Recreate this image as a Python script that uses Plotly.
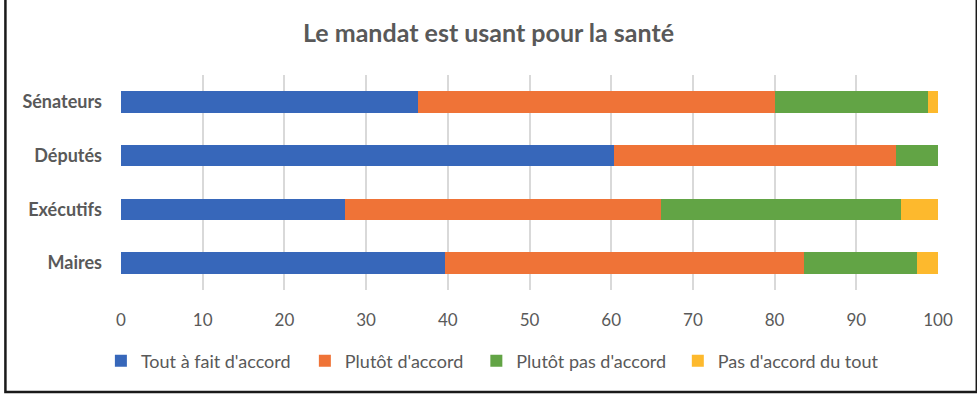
import plotly.graph_objects as go

categories = ["Sénateurs", "Députés", "Exécutifs", "Maires"]
series_names = ["Tout à fait d'accord", "Plutôt d'accord", "Plutôt pas d'accord", "Pas d'accord du tout"]
tout_a_fait = [36.3, 60.4, 27.4, 39.7]
plutot = [43.7, 34.5, 38.7, 43.9]
plutot_pas = [18.8, 5.1, 29.4, 13.8]
pas_du_tout = [1.2, 0.0, 4.5, 2.6]
tick_vals = [0, 10, 20, 30, 40, 50, 60, 70, 80, 90, 100]

colors = ["#3767BA", "#EF7337", "#62A445", "#FDB92D"]
values = [tout_a_fait, plutot, plutot_pas, pas_du_tout]

W, H = 977, 397
L, R, T, B = 120.6, 977 - 937.7, 75, 397 - 290
pw, ph = W - L - R, H - T - B


def px_x(x):
    return (x - L) / pw


def px_y(y):
    return (H - B - y) / ph


legend_ids = ["legend", "legend2", "legend3", "legend4"]
legend_centers = [198, 386.5, 573.5, 780.5]

fig = go.Figure()
for name, vals, col, lid in zip(series_names, values, colors, legend_ids):
    fig.add_trace(go.Bar(
        y=categories, x=vals, name=name, orientation="h", legend=lid, showlegend=True,
        marker=dict(color=col, line=dict(width=0)),
    ))

legend_layout = {}
for lid, cx in zip(legend_ids, legend_centers):
    legend_layout[lid] = dict(orientation="h", x=px_x(cx), xanchor="center", y=px_y(361), yanchor="middle",
                              font=dict(size=18, color="#595959", family="Lato"), itemwidth=30,
                              bgcolor="rgba(0,0,0,0)", visible=True)

fig.update_layout(
    width=W, height=H, showlegend=True,
    barmode="stack", bargap=0.6,
    margin=dict(l=L, r=R, t=T, b=B),
    paper_bgcolor="white", plot_bgcolor="white",
    font=dict(family="Lato", color="#595959"),
    title=dict(text="<b>Le mandat est usant pour la santé</b>", x=0.5, xanchor="center",
               y=1 - 33 / H, yanchor="middle", font=dict(size=25, color="#595959", family="Lato")),
    xaxis=dict(range=[0, 100], tickvals=tick_vals, showgrid=True, gridcolor="#D9D9D9", gridwidth=1.5,
               zeroline=False, showline=False, tickfont=dict(size=17, color="#595959"),
               ticks="", ticklabelstandoff=18),
    yaxis=dict(categoryorder="array", categoryarray=categories[::-1], showgrid=False, zeroline=False,
               showline=False, ticks="", tickfont=dict(size=18, color="#595959", family="Lato"),
               ticklabelstandoff=18, tickprefix="<b>", ticksuffix="</b>"),
    shapes=[dict(type="rect", xref="paper", yref="paper",
                 x0=px_x(5), x1=px_x(976.5), y0=px_y(392), y1=px_y(-5),
                 line=dict(color="#1a1a1a", width=2.5), fillcolor="rgba(0,0,0,0)", layer="above")],
    **legend_layout,
)

fig.write_html("out.html", config={"displayModeBar": False},
               post_script="document.body.style.margin='0';document.body.style.padding='0';")
